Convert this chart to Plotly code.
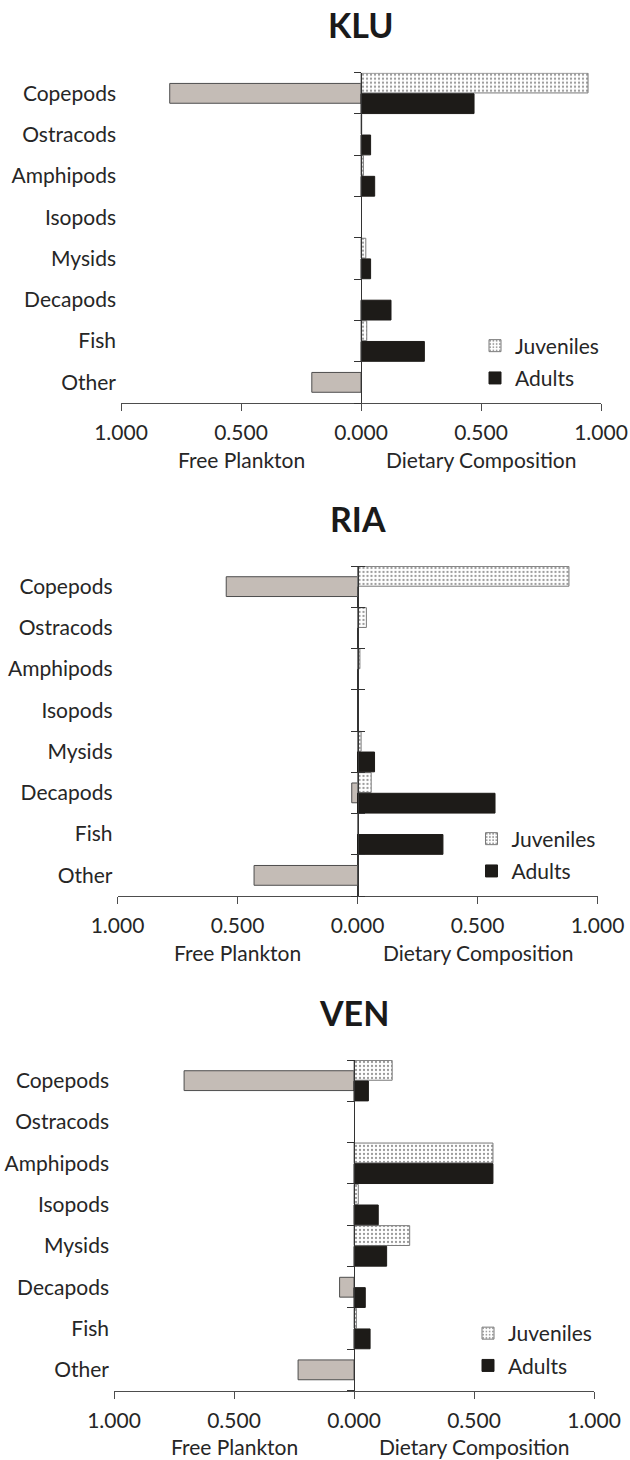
import plotly.graph_objects as go

categories = ["Copepods", "Ostracods", "Amphipods", "Isopods", "Mysids", "Decapods", "Fish", "Other"]
sites = ["KLU", "RIA", "VEN"]

# Free plankton proportions (plotted to the left)
klu_free = [0.797, 0.0, 0.0, 0.0, 0.0, 0.0, 0.0, 0.205]
ria_free = [0.547, 0.0, 0.0, 0.0, 0.0, 0.024, 0.0, 0.431]
ven_free = [0.708, 0.0, 0.0, 0.0, 0.0, 0.060, 0.0, 0.233]

# Dietary composition, juveniles
klu_juv = [0.946, 0.003, 0.010, 0.0, 0.020, 0.0, 0.024, 0.0]
ria_juv = [0.881, 0.037, 0.010, 0.0, 0.015, 0.057, 0.003, 0.0]
ven_juv = [0.159, 0.0, 0.579, 0.018, 0.232, 0.0, 0.010, 0.0]

# Dietary composition, adults
klu_adu = [0.471, 0.040, 0.057, 0.0, 0.040, 0.125, 0.264, 0.0]
ria_adu = [0.0, 0.0, 0.0, 0.0, 0.071, 0.573, 0.356, 0.0]
ven_adu = [0.060, 0.0, 0.579, 0.101, 0.136, 0.047, 0.067, 0.0]

tick_vals = [-1.0, -0.5, 0.0, 0.5, 1.0]
tick_text = ["1.000", "0.500", "0.000", "0.500", "1.000"]
left_title = "Free Plankton"
right_title = "Dietary Composition"

free = [klu_free, ria_free, ven_free]
juv = [klu_juv, ria_juv, ven_juv]
adu = [klu_adu, ria_adu, ven_adu]


def nz(vals, sign=1):
    return [sign * v if v else None for v in vals]


W, H = 630, 1460
# panel pixel boxes: (left, right, top, bottom)
boxes = [(121, 601, 72.7, 403), (117.5, 597.5, 566, 896), (114, 594, 1060, 1390.5)]
cross_ticks = [False, True, False]

FONT = "Lato, 'Open Sans', sans-serif"
FS = 21
TXT = "#262626"
GREY = "#c4bcb6"
BLACK = "#1d1b18"
LINE = "#4d4d4d"
AX = "#333333"

fig = go.Figure()
layout = dict(
    width=W, height=H, margin=dict(l=0, r=0, t=0, b=0, autoexpand=False),
    paper_bgcolor="white", plot_bgcolor="white",
    barmode="overlay", font=dict(family=FONT, size=FS, color=TXT),
    annotations=[],
)

n = len(categories)
ax_extra = 4
for p in range(3):
    L, R, T, B = boxes[p]
    xd = [L / W, R / W]
    yd = [1 - B / H, 1 - T / H]
    xs = "x" if p == 0 else f"x{p+1}"
    ys = "y" if p == 0 else f"y{p+1}"
    xk = "xaxis" if p == 0 else f"xaxis{p+1}"
    yk = "yaxis" if p == 0 else f"yaxis{p+1}"
    lg = "legend" if p == 0 else f"legend{p+1}"

    fig.add_trace(go.Bar(
        y=categories, x=nz(free[p], -1), orientation="h",
        xaxis=xs, yaxis=ys, width=0.48, offset=-0.24,
        marker=dict(color=GREY, line=dict(color=LINE, width=1)),
        showlegend=False, name="Free Plankton"))
    fig.add_trace(go.Bar(
        y=categories, x=nz(juv[p]), orientation="h",
        xaxis=xs, yaxis=ys, width=0.48, offset=-0.49,
        marker=dict(color="white", line=dict(color="#7a7a7a", width=1),
                    pattern=dict(shape=".", fgcolor="#333333", bgcolor="white",
                                 size=4, solidity=0.25)),
        name="Juveniles", legend=lg, legendgroup=f"j{p}"))
    fig.add_trace(go.Bar(
        y=categories, x=nz(adu[p]), orientation="h",
        xaxis=xs, yaxis=ys, width=0.48, offset=0.01,
        marker=dict(color=BLACK, line=dict(color=BLACK, width=1)),
        name="Adults", legend=lg, legendgroup=f"a{p}"))

    layout[xk] = dict(
        domain=xd, anchor=ys, range=[-1, 1], tickmode="array", automargin=False,
        tickvals=tick_vals, ticktext=tick_text, showgrid=False,
        zeroline=True, zerolinecolor=AX, zerolinewidth=1,
        showline=True, linecolor=LINE, linewidth=1, ticks="outside",
        ticklen=7, tickcolor=LINE, tickwidth=1, ticklabelstandoff=4,
        tickfont=dict(size=FS, color=TXT), fixedrange=True)
    layout[yk] = dict(
        domain=yd, anchor=xs, type="category", categoryorder="array", automargin=False,
        categoryarray=categories, range=[n - 0.5, -0.5], showgrid=False,
        zeroline=False, showline=False, ticks="", ticklabelstandoff=4,
        tickfont=dict(size=FS, color=TXT), fixedrange=True)

    # category-boundary ticks drawn on an axis sitting at x = 0
    zero_pos = (xd[0] + xd[1]) / 2
    bounds = [i - 0.5 for i in range(n + 1)]
    sides = ["left", "right"] if cross_ticks[p] else ["left"]
    for side in sides:
        ak = f"yaxis{ax_extra}"
        layout[ak] = dict(
            overlaying=ys, anchor="free", position=zero_pos, side=side, automargin=False,
            range=[n - 0.5, -0.5], tickmode="array", tickvals=bounds,
            showticklabels=False, showgrid=False, zeroline=False,
            showline=(side == "left"), linecolor=AX, linewidth=1,
            ticks="outside", ticklen=7 if side == "left" else 6,
            tickcolor=AX, fixedrange=True)
        fig.add_trace(go.Scatter(
            x=[None], y=[None], xaxis=xs, yaxis=f"y{ax_extra}",
            mode="markers", showlegend=False, hoverinfo="skip"))
        ax_extra += 1

    layout[lg] = dict(
        x=(R - 86 - 40) / W, xanchor="left",
        y=yd[0] + 41 / H, yanchor="middle",
        bgcolor="rgba(0,0,0,0)", font=dict(size=FS, color=TXT),
        tracegroupgap=2, traceorder="grouped", itemclick=False)

    layout["annotations"] += [
        dict(text=f"<b>{sites[p]}</b>", xref=f"{xs} domain", yref=f"{ys} domain",
             x=0.5, y=1, yshift=48, xanchor="center", yanchor="middle",
             showarrow=False, font=dict(size=34, color="#1a1a1a", family=FONT)),
        dict(text=left_title, xref=xs, yref=f"{ys} domain", x=-0.5, y=0,
             yshift=-56, xanchor="center", yanchor="middle", showarrow=False,
             font=dict(size=FS, color=TXT)),
        dict(text=right_title, xref=xs, yref=f"{ys} domain", x=0.5, y=0,
             yshift=-56, xanchor="center", yanchor="middle", showarrow=False,
             font=dict(size=FS, color=TXT)),
    ]

fig.update_layout(**layout)
fig.write_html("out.html", config={"displayModeBar": False})
